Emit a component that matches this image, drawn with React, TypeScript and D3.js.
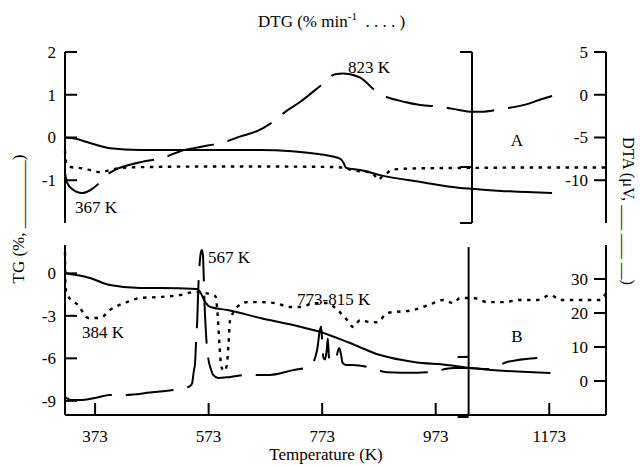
import React from 'react';
import * as d3 from 'd3';

// ---------- tick values ----------
const xTicks = [373, 573, 773, 973, 1173];
const aTGTicks = [2, 1, 0, -1];
const aDTATicks = [5, 0, -5, -10];
const bTGTicks = [0, -3, -6, -9];
const bDTATicks = [30, 20, 10, 0];

// ---------- Panel A ----------
const aTG_T = [320, 335, 364, 399, 452, 523, 664, 720, 769, 790, 805, 811, 815, 840, 875, 946, 1016, 1037, 1104, 1178];
const aTG_V = [0, -0.02, -0.13, -0.25, -0.29, -0.29, -0.29, -0.32, -0.39, -0.44, -0.5, -0.6, -0.71, -0.76, -0.88, -1.04, -1.18, -1.2, -1.26, -1.3];

const aDTA_T = [320, 324, 332, 350, 368, 382, 390, 408, 452, 496, 523, 558, 602, 628, 660, 681, 708, 734, 769, 796, 810, 822, 840, 870, 919, 946, 981, 1016, 1034, 1053, 1087, 1134, 1160, 1178];
const aDTA_V = [-9.2, -10.3, -11.0, -11.5, -11.0, -10.2, -9.6, -8.8, -7.9, -7.3, -6.6, -6.1, -5.5, -4.9, -4.2, -3.4, -2.0, -0.85, 1.0, 2.4, 2.5, 2.4, 2.0, 0.3, -0.85, -1.2, -1.4, -1.8, -2.0, -2.0, -1.7, -1.1, -0.5, -0.15];

const aDTG_T = [320, 321, 323, 330, 350, 370, 382, 400, 420, 470, 550, 700, 790, 812, 825, 845, 858, 866, 872, 878, 886, 896, 950, 1050, 1150, 1273];
const aDTG_V = [-0.3, -0.5, -0.62, -0.69, -0.72, -0.78, -0.81, -0.76, -0.71, -0.69, -0.68, -0.68, -0.69, -0.71, -0.76, -0.8, -0.81, -0.9, -0.99, -0.92, -0.85, -0.75, -0.72, -0.71, -0.7, -0.7];

// ---------- Panel B ----------
const bTG_T = [320, 364, 399, 452, 487, 553, 558, 567, 576, 606, 664, 722, 770, 822, 875, 934, 993, 1034, 1175];
const bTG_V = [0, -0.33, -0.83, -1.04, -1.04, -1.11, -1.32, -2.03, -2.38, -2.59, -3.15, -3.65, -4.14, -4.92, -5.77, -6.26, -6.47, -6.68, -7.04];

const bDTA_T = [320, 332, 346, 375, 399, 426, 470, 510, 531, 540, 544, 547, 549, 551, 553, 555, 557, 559, 561, 563, 564.5, 566, 568, 570, 573, 577, 581, 590, 611, 642, 681, 722, 748, 757, 761, 765, 768, 771, 773, 775, 778, 781, 783, 785, 790, 797, 803, 806, 809, 815, 827, 854, 887, 940, 963, 1004, 1030, 1064, 1099, 1152];
const bDTA_V = [-4.7, -5.6, -5.6, -4.9, -4.1, -4.1, -3.4, -2.65, -2.1, -1.5, -0.6, 3, 5, 12, 18, 28, 34, 37.5, 38.5, 37, 30, 22, 15, 10, 6, 3.5, 1.8, 0.9, 1.2, 1.8, 1.8, 3.2, 4.1, 5.3, 7.1, 10, 14, 16, 12, 7, 6.3, 9, 12.5, 7, 5.5, 6.5, 9.7, 8, 5.3, 4.7, 4.7, 4.1, 2.6, 2.4, 2.6, 3.8, 3.8, 3.5, 5.6, 6.8];

const bDTG_T = [320, 321, 324, 343, 361, 382, 399, 429, 452, 487, 523, 549, 585, 589, 592, 595, 600, 605, 608, 611, 616, 623, 641, 664, 690, 717, 734, 760, 782, 800, 817, 828, 840, 858, 870, 888, 934, 969, 986, 1004, 1016, 1039, 1064, 1092, 1122, 1152, 1175, 1193, 1228, 1263, 1273];
const bDTG_V = [1.5, -1.0, -1.53, -2.24, -3.15, -3.15, -2.59, -2.03, -1.74, -1.67, -1.53, -1.32, -1.6, -3.0, -5.0, -6.5, -6.9, -6.5, -5.0, -3.2, -2.8, -2.38, -2.03, -2.03, -2.1, -2.38, -2.38, -2.1, -2.1, -2.59, -3.3, -3.79, -3.3, -3.45, -3.45, -2.8, -2.59, -2.1, -1.88, -2.1, -1.74, -1.74, -2.03, -2.03, -1.88, -1.88, -1.53, -1.88, -1.88, -1.88, -1.39];

const FONT = "'Liberation Serif', 'Times New Roman', serif";

export default function App() {
  const x = d3.scaleLinear().domain([320, 1273]).range([65, 606]);
  const yA = d3.scaleLinear().domain([-2, 2]).range([223, 52]);
  const yAd = d3.scaleLinear().domain([-15, 5]).range([223, 52]);
  const yB = d3.scaleLinear().domain([-10, 2]).range([415, 245]);
  const yBd = d3.scaleLinear().domain([-10, 40]).range([415, 245]);

  const mk = (ts: number[], vs: number[], ys: d3.ScaleLinear<number, number>) =>
    d3
      .line<number>()
      .x((_, i) => x(ts[i]))
      .y((v) => ys(v))
      .curve(d3.curveMonotoneX)(vs) || '';

  const xL = x(320);
  const xR = x(1273);
  const xMidA = x(1037);
  const xMidB = x(1031);
  const tickLen = 12;

  const solid = { fill: 'none', stroke: '#000', strokeWidth: 2 };
  const dashed = { fill: 'none', stroke: '#000', strokeWidth: 2, strokeDasharray: '48,14' };
  const dotted = { fill: 'none', stroke: '#000', strokeWidth: 2.4, strokeDasharray: '3.5,5.5' };
  const axis = { stroke: '#000', strokeWidth: 2, fill: 'none' };
  const txt = { fontFamily: FONT, fontSize: 17, fill: '#000' } as React.CSSProperties;

  return (
    <svg
      width={640}
      height={466}
      style={{ position: 'fixed', left: 0, top: 0, background: '#fff' }}
      xmlns="http://www.w3.org/2000/svg"
    >
      <rect x={0} y={0} width={640} height={466} fill="#fff" />

      {/* ---------- Panel A axes ---------- */}
      <line x1={xL} x2={xL} y1={yA(2)} y2={yA(-2)} style={axis} />
      {aTGTicks.map((t) => (
        <g key={'atg' + t}>
          <line x1={xL} x2={xL + tickLen} y1={yA(t)} y2={yA(t)} style={axis} />
          <text x={56} y={yA(t)} dy="0.35em" textAnchor="end" style={txt}>{String(t)}</text>
        </g>
      ))}
      <line x1={xR} x2={xR} y1={yAd(5)} y2={yAd(-15)} style={axis} />
      {aDTATicks.map((t) => (
        <g key={'adta' + t}>
          <line x1={xR} x2={xR - tickLen} y1={yAd(t)} y2={yAd(t)} style={axis} />
          <text x={588} y={yAd(t)} dy="0.35em" textAnchor="end" style={txt}>{String(t)}</text>
        </g>
      ))}
      <line x1={xMidA} x2={xMidA} y1={yA(2)} y2={yA(-2)} style={axis} />
      {[2, -0.69, -2].map((t) => (
        <line key={'amid' + t} x1={xMidA} x2={xMidA - tickLen} y1={yA(t)} y2={yA(t)} style={axis} />
      ))}

      {/* ---------- Panel B axes ---------- */}
      <line x1={xL} x2={xL} y1={yB(2)} y2={yB(-10)} style={axis} />
      {bTGTicks.map((t) => (
        <g key={'btg' + t}>
          <line x1={xL} x2={xL + tickLen} y1={yB(t)} y2={yB(t)} style={axis} />
          <text x={56} y={yB(t)} dy="0.35em" textAnchor="end" style={txt}>{String(t)}</text>
        </g>
      ))}
      <line x1={xR} x2={xR} y1={yBd(40)} y2={yBd(-10)} style={axis} />
      {bDTATicks.map((t) => (
        <g key={'bdta' + t}>
          <line x1={xR} x2={xR - tickLen} y1={yBd(t)} y2={yBd(t)} style={axis} />
          <text x={588} y={yBd(t)} dy="0.35em" textAnchor="end" style={txt}>{String(t)}</text>
        </g>
      ))}
      <line x1={xMidB} x2={xMidB} y1={yB(1.85)} y2={yB(-10)} style={axis} />
      <line x1={xMidB} x2={xMidB - 11} y1={yB(-5.9)} y2={yB(-5.9)} style={axis} />
      <line x1={xMidB - 11} x2={xMidB} y1={yB(-10) + 1.5} y2={yB(-10) + 1.5} stroke="#000" strokeWidth={3} />

      {/* x axis */}
      <line x1={xL} x2={xR} y1={yB(-10)} y2={yB(-10)} style={axis} />
      {xTicks.map((t) => (
        <g key={'x' + t}>
          <line x1={x(t)} x2={x(t)} y1={yB(-10)} y2={yB(-10) - tickLen} style={axis} />
          <text x={x(t)} y={442} textAnchor="middle" style={txt}>{String(t)}</text>
        </g>
      ))}

      {/* ---------- Panel A curves ---------- */}
      <path d={mk(aTG_T, aTG_V, yA)} style={solid} />
      <path d={mk(aDTA_T, aDTA_V, yAd)} style={dashed} />
      <path d={mk(aDTG_T, aDTG_V, yA)} style={dotted} />

      {/* ---------- Panel B curves ---------- */}
      <path d={mk(bTG_T, bTG_V, yB)} style={solid} />
      <path d={mk(bDTA_T, bDTA_V, yBd)} style={dashed} />
      <path d={mk(bDTG_T, bDTG_V, yB)} style={dotted} />

      {/* ---------- annotations ---------- */}
      <text x={348} y={73} style={txt}>823 K</text>
      <text x={75} y={213} style={txt}>367 K</text>
      <text x={517} y={146} textAnchor="middle" style={txt}>A</text>
      <text x={208} y={263} style={txt}>567 K</text>
      <text x={82} y={338} style={txt}>384 K</text>
      <text x={297} y={305} style={txt}>773-815 K</text>
      <text x={517} y={342} textAnchor="middle" style={txt}>B</text>

      {/* ---------- axis titles ---------- */}
      <text x={258} y={27} style={txt}>
        DTG (% min
        <tspan fontSize={11} dy={-7}>-1</tspan>
        <tspan dy={7}>{'\u00a0\u00a0. . . . )'}</tspan>
      </text>
      <text x={326} y={460} textAnchor="middle" style={txt}>Temperature (K)</text>
      <text transform="translate(24,219) rotate(-90)" textAnchor="middle" style={txt}>
        {'TG (%, ________)'}
      </text>
      <text transform="translate(623,211) rotate(90)" textAnchor="middle" style={{ ...txt, fontSize: 16.5 }}>
        {'DTA (\u03bcV, ___ ___ __)'}
      </text>
    </svg>
  );
}
